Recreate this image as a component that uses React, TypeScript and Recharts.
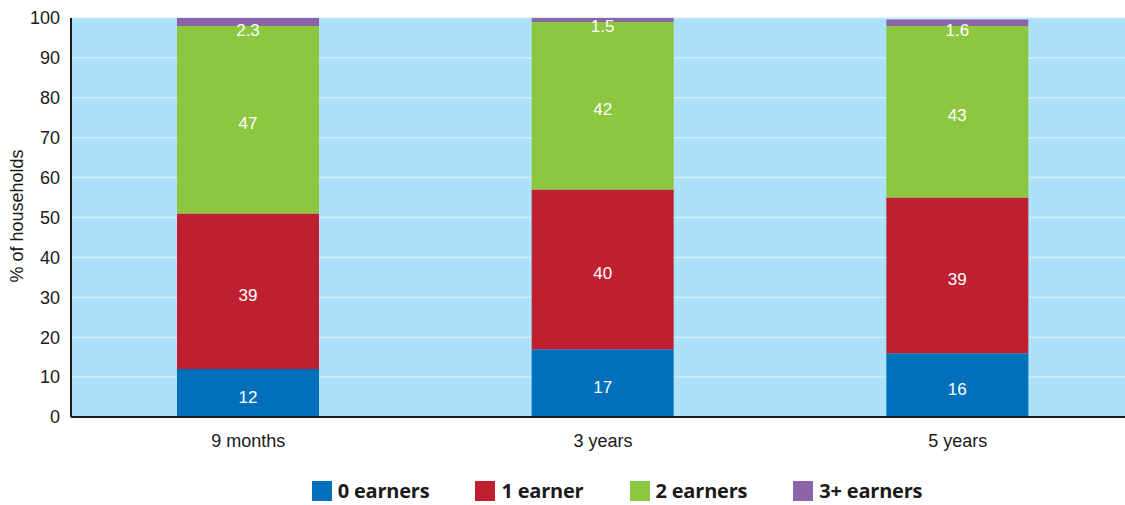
import { BarChart, Bar, XAxis, YAxis, CartesianGrid, LabelList, Label } from 'recharts'

const categories = ['9 months', '3 years', '5 years']
const zeroEarners = [12, 17, 16]
const oneEarner = [39, 40, 39]
const twoEarners = [47, 42, 43]
const threePlusEarners = [2.3, 1.5, 1.6]
const yTicks = [0, 10, 20, 30, 40, 50, 60, 70, 80, 90, 100]

const series = [
  { key: 'zero', name: '0 earners', values: zeroEarners, color: '#0070ba' },
  { key: 'one', name: '1 earner', values: oneEarner, color: '#c01f30' },
  { key: 'two', name: '2 earners', values: twoEarners, color: '#8dc63f' },
  { key: 'three', name: '3+ earners', values: threePlusEarners, color: '#8c64a8' },
]

const chartData = categories.map((name, i) => {
  const row: Record<string, string | number> = { name }
  series.forEach(s => {
    row[s.key] = s.values[i]
  })
  return row
})

const FONT = "'Liberation Sans', Arial, Helvetica, sans-serif"

// label sits a little below the segment centre; the top segment's label hangs under it
const renderLabel = (top: boolean) => (props: any) => {
  const { x, y, width, height, value } = props
  const cy = top ? y + height + 6 : y + height / 2 + 5
  return (
    <text
      x={x + width / 2}
      y={cy}
      fill="#ffffff"
      fontSize={17}
      fontFamily={FONT}
      textAnchor="middle"
      dominantBaseline="middle"
    >
      {value}
    </text>
  )
}

export default function App() {
  return (
    <div style={{ position: 'fixed', top: 0, left: 0, width: 1125, height: 505, overflow: 'hidden', background: '#fff' }}>
      <BarChart
        width={1135}
        height={505}
        data={chartData}
        margin={{ top: 18, right: 0, bottom: 58, left: 0 }}
        barSize={142}
      >
        <CartesianGrid horizontal vertical={false} stroke="#d2edfb" strokeWidth={1.5} fill="#ace1fa" />
        <XAxis
          dataKey="name"
          axisLine={{ stroke: '#1a1a1a', strokeWidth: 2 }}
          tickLine={false}
          tickSize={6}
          tickMargin={11}
          tick={{ fill: '#1a1a1a', fontSize: 18, fontFamily: FONT }}
          height={30}
        />
        <YAxis
          type="number"
          domain={[0, 100]}
          ticks={yTicks}
          allowDataOverflow
          width={71}
          axisLine={{ stroke: '#1a1a1a', strokeWidth: 2 }}
          tickLine={false}
          tickSize={6}
          tickMargin={5}
          tick={{ fill: '#1a1a1a', fontSize: 18, fontFamily: FONT }}
        >
          <Label
            content={() => (
              <text
                x={18}
                y={216}
                transform="rotate(-90, 18, 216)"
                textAnchor="middle"
                dominantBaseline="middle"
                fontSize={18}
                fontFamily={FONT}
                fill="#1a1a1a"
              >
                % of households
              </text>
            )}
          />
        </YAxis>
        {series.map((s, i) => (
          <Bar key={s.key} dataKey={s.key} stackId="a" fill={s.color} isAnimationActive={false}>
            <LabelList dataKey={s.key} content={renderLabel(i === series.length - 1)} />
          </Bar>
        ))}
      </BarChart>
      <div
        style={{
          position: 'absolute',
          top: 481,
          left: 0,
          width: 1234,
          display: 'flex',
          justifyContent: 'center',
          gap: 46,
          fontFamily: "'Open Sans', 'Noto Sans', sans-serif",
          fontWeight: 700,
          fontSize: 20,
          letterSpacing: -0.2,
          color: '#1a1a1a',
        }}
      >
        {series.map(s => (
          <div key={s.key} style={{ display: 'flex', alignItems: 'center', gap: 6 }}>
            <span style={{ display: 'inline-block', width: 20, height: 20, background: s.color }} />
            <span style={{ lineHeight: '20px' }}>{s.name}</span>
          </div>
        ))}
      </div>
    </div>
  )
}
